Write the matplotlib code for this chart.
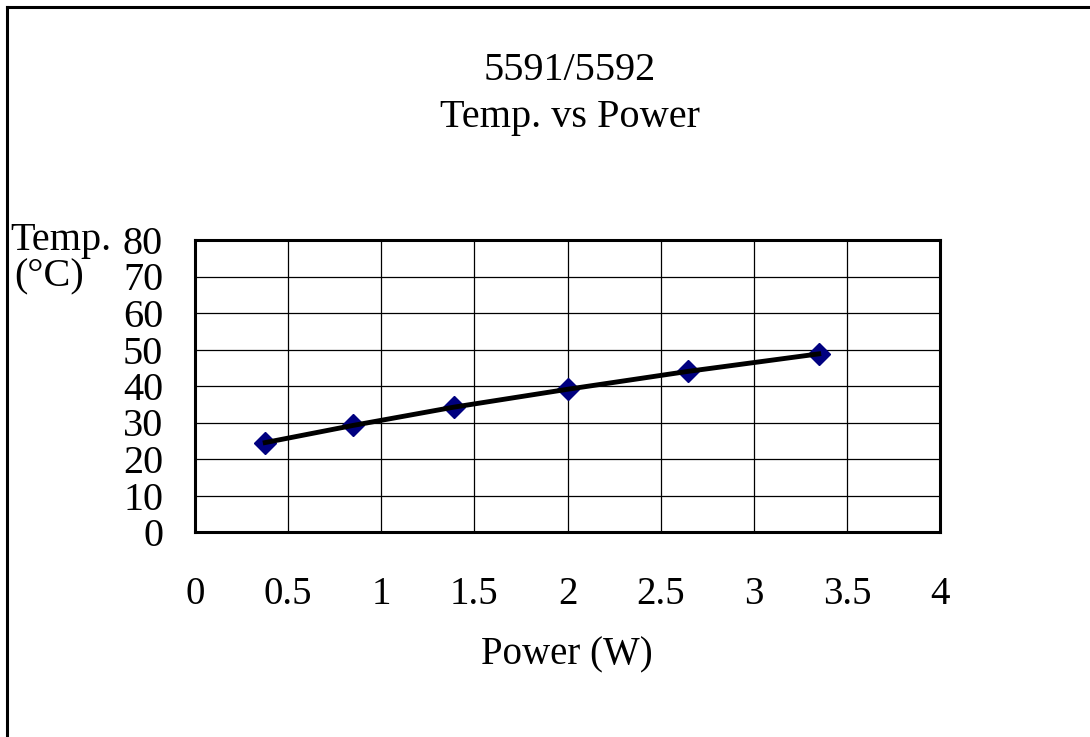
import matplotlib.pyplot as plt
from matplotlib.lines import Line2D

# ------------------------------
# Data
# ------------------------------
power = [0.377, 0.849, 1.389, 2.0, 2.646, 3.349]
temp = [24.5, 29.2, 34.2, 39.1, 44.0, 48.8]
x_ticks = [0, 0.5, 1, 1.5, 2, 2.5, 3, 3.5, 4]
x_labels = ["0", "0.5", "1", "1.5", "2", "2.5", "3", "3.5", "4"]
y_ticks = [0, 10, 20, 30, 40, 50, 60, 70, 80]

plt.rcParams['font.family'] = ['Liberation Serif', 'DejaVu Serif']

fig = plt.figure(figsize=(10.9, 7.37), dpi=100)
ax = fig.add_axes([195 / 1090, 1 - 532 / 737, 745 / 1090, 292 / 737])

# markers first, line on top
ax.plot(power, temp, linestyle='none', marker='D', markersize=11,
        color='#000080', zorder=3)
ax.plot(power, temp, color='black', linewidth=3.5, zorder=4)

ax.set_xlim(0, 4)
ax.set_ylim(0, 80)
ax.set_xticks(x_ticks)
ax.set_xticklabels(x_labels)
ax.set_yticks(y_ticks)
ax.tick_params(axis='both', length=0)
ax.tick_params(axis='x', pad=32, labelsize=28)
ax.tick_params(axis='y', pad=23, labelsize=29)
ax.grid(True, color='black', linewidth=0.9)
ax.set_axisbelow(True)
for s in ax.spines.values():
    s.set_linewidth(2.2)

# titles and labels
fig.text(570 / 1090, 1 - 70 / 737, "5591/5592", ha='center', va='center', fontsize=29)
fig.text(570 / 1090, 1 - 118 / 737, "Temp. vs Power", ha='center', va='center', fontsize=29)
fig.text(567 / 1090, 1 - 655 / 737, "Power (W)", ha='center', va='center', fontsize=28)
fig.text(10 / 1090, 1 - 241 / 737, "Temp.", ha='left', va='center', fontsize=29)
fig.text(14 / 1090, 1 - 277 / 737, "(°C)", ha='left', va='center', fontsize=29)

# outer frame (top and left edges visible)
fig.add_artist(Line2D([7 / 1090, 1], [1 - 7 / 737, 1 - 7 / 737],
                      transform=fig.transFigure, color='black', linewidth=2.2))
fig.add_artist(Line2D([7 / 1090, 7 / 1090], [0, 1 - 7 / 737],
                      transform=fig.transFigure, color='black', linewidth=2.2))

fig.savefig("out.png", dpi=100)
